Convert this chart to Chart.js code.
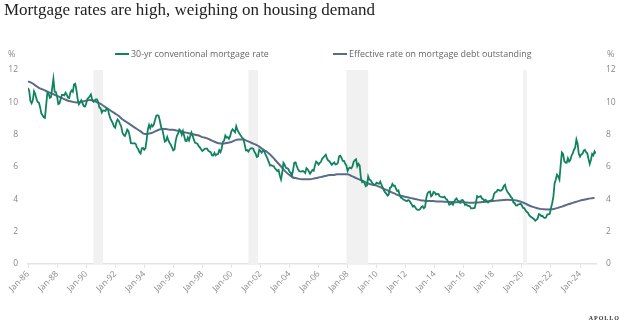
<!DOCTYPE html>
<html>
<head>
<meta charset="utf-8">
<script src="https://cdn.jsdelivr.net/npm/chart.js@4.4.1/dist/chart.umd.min.js"></script>
<style>
  html, body { margin: 0; padding: 0; background: #fff; }
  #wrap { position: relative; width: 624px; height: 332px; overflow: hidden; }
  #title { position: absolute; left: 4px; top: 0px; font: 17px "Liberation Serif", serif; color: #222; white-space: nowrap; }
  #brand { position: absolute; right: 4px; top: 315px; font: bold 6px "Liberation Serif", serif; letter-spacing: 1px; color: #333; }
  canvas { position: absolute; left: 0; top: 0; }
  .leg { position: absolute; top: 47px; font: 8.9px "Open Sans", sans-serif; color: #666; white-space: nowrap; line-height: 14px; }
  .leg i { display: inline-block; width: 14px; height: 2px; vertical-align: middle; margin-right: 2px; position: relative; top: -1px; }
</style>
</head>
<body>
<div id="wrap">
  <canvas id="chart" width="624" height="332"></canvas>
  <div id="title">Mortgage rates are high, weighing on housing demand</div>
  <div id="brand">APOLLO</div>
  <div id="legend"></div>
</div>
<script>
// 30-yr conventional mortgage rate, monthly from Jan 1986
var rateStart = 1986;
var rate30 = [
  10.88, 10.71, 10.08, 9.94, 10.14, 10.68, 10.51, 10.20, 10.01, 9.98, 9.70, 9.32, // 86
  9.20, 9.08, 9.04, 9.83, 10.60, 10.54, 10.28, 10.33, 10.89, 11.45, 10.65, 10.64, // 87
  10.38, 9.89, 9.93, 10.20, 10.46, 10.46, 10.43, 10.60, 10.48, 10.30, 10.27, 10.61, // 88
  10.73, 10.65, 11.10, 11.15, 10.77, 10.20, 9.88, 9.99, 10.13, 9.95, 9.77, 9.74, // 89
  9.90, 10.20, 10.27, 10.37, 10.48, 10.16, 10.04, 10.10, 10.18, 10.18, 10.01, 9.67, // 90
  9.64, 9.37, 9.50, 9.49, 9.47, 9.62, 9.58, 9.24, 9.01, 8.86, 8.71, 8.50, // 91
  8.43, 8.76, 8.94, 8.85, 8.67, 8.51, 8.13, 7.98, 7.92, 8.09, 8.31, 8.22, // 92
  7.91, 7.47, 7.46, 7.46, 7.47, 7.42, 7.21, 7.11, 6.92, 6.83, 7.16, 7.17, // 93
  7.06, 7.15, 7.68, 8.32, 8.60, 8.40, 8.61, 8.51, 8.64, 8.93, 9.17, 9.20, // 94
  9.15, 8.83, 8.46, 8.32, 7.96, 7.57, 7.61, 7.86, 7.64, 7.48, 7.38, 7.20, // 95
  7.03, 7.08, 7.62, 7.93, 8.07, 8.32, 8.25, 8.00, 8.23, 7.92, 7.62, 7.60, // 96
  7.82, 7.65, 7.90, 8.14, 7.94, 7.69, 7.50, 7.48, 7.43, 7.29, 7.21, 7.10, // 97
  6.99, 7.04, 7.13, 7.14, 7.14, 7.00, 6.95, 6.92, 6.72, 6.71, 6.87, 6.72, // 98
  6.79, 6.81, 7.04, 6.92, 7.15, 7.55, 7.63, 7.94, 7.82, 7.85, 7.74, 7.91, // 99
  8.21, 8.33, 8.24, 8.15, 8.52, 8.29, 8.15, 8.03, 7.91, 7.80, 7.75, 7.38, // 00
  7.03, 7.05, 6.95, 7.08, 7.15, 7.16, 7.13, 6.95, 6.82, 6.62, 6.66, 7.07, // 01
  7.00, 6.89, 7.01, 6.99, 6.81, 6.65, 6.49, 6.29, 6.09, 6.11, 6.07, 6.05, // 02
  5.92, 5.84, 5.75, 5.81, 5.48, 5.23, 5.63, 6.26, 6.15, 5.95, 5.93, 5.88, // 03
  5.71, 5.64, 5.45, 5.83, 6.27, 6.29, 6.06, 5.87, 5.75, 5.72, 5.73, 5.75, // 04
  5.71, 5.63, 5.93, 5.86, 5.72, 5.58, 5.70, 5.82, 5.77, 6.07, 6.33, 6.27, // 05
  6.15, 6.25, 6.32, 6.51, 6.60, 6.68, 6.76, 6.52, 6.40, 6.36, 6.24, 6.14, // 06
  6.22, 6.29, 6.16, 6.18, 6.26, 6.66, 6.70, 6.57, 6.38, 6.38, 6.21, 6.10, // 07
  5.76, 5.92, 5.97, 5.92, 6.04, 6.32, 6.43, 6.48, 6.04, 6.20, 6.09, 5.33, // 08
  5.06, 5.13, 5.00, 4.81, 4.86, 5.42, 5.22, 5.19, 5.06, 4.95, 4.88, 4.93, // 09
  5.03, 4.99, 4.97, 5.10, 4.89, 4.74, 4.56, 4.43, 4.35, 4.23, 4.30, 4.71, // 10
  4.76, 4.95, 4.84, 4.84, 4.64, 4.51, 4.55, 4.27, 4.11, 4.07, 3.99, 3.96, // 11
  3.92, 3.89, 3.95, 3.91, 3.80, 3.68, 3.55, 3.60, 3.50, 3.38, 3.35, 3.35, // 12
  3.41, 3.53, 3.57, 3.45, 3.54, 4.07, 4.37, 4.46, 4.49, 4.19, 4.26, 4.46, // 13
  4.43, 4.30, 4.34, 4.34, 4.19, 4.16, 4.13, 4.12, 4.16, 4.04, 4.00, 3.86, // 14
  3.67, 3.71, 3.77, 3.67, 3.84, 3.98, 4.05, 3.91, 3.89, 3.80, 3.94, 3.96, // 15
  3.87, 3.66, 3.69, 3.61, 3.60, 3.57, 3.44, 3.44, 3.46, 3.47, 3.77, 4.20, // 16
  4.15, 4.17, 4.20, 4.05, 4.01, 3.90, 3.97, 3.88, 3.81, 3.90, 3.92, 3.95, // 17
  4.03, 4.33, 4.44, 4.47, 4.59, 4.57, 4.53, 4.55, 4.63, 4.83, 4.90, 4.64, // 18
  4.46, 4.37, 4.27, 4.14, 4.07, 3.80, 3.77, 3.62, 3.61, 3.69, 3.70, 3.72, // 19
  3.62, 3.47, 3.45, 3.31, 3.23, 3.16, 3.02, 2.94, 2.89, 2.83, 2.77, 2.68, // 20
  2.74, 2.81, 3.08, 3.06, 2.96, 2.98, 2.87, 2.84, 2.90, 3.07, 3.07, 3.10, // 21
  3.45, 3.76, 4.17, 4.98, 5.23, 5.52, 5.41, 5.22, 6.11, 6.90, 6.81, 6.36, // 22
  6.27, 6.26, 6.54, 6.34, 6.43, 6.71, 6.84, 7.07, 7.20, 7.70, 7.44, 6.82, // 23
  6.64, 6.78, 6.82, 7.00, 7.06, 6.92, 6.85, 6.50, 6.18, 6.43, 6.81, 6.72, // 24
  6.96, 6.84 // 25
];

// effective rate on mortgage debt outstanding, quarterly from 1986 Q1
var effStart = 1986;
var effRate = [
  11.3, 11.2, 11.05, 10.9,   10.8, 10.7, 10.6, 10.5,   10.4, 10.3, 10.2, 10.1,
  10.05, 10.0, 10.0, 10.05,  10.1, 10.15, 10.1, 10.0,  9.9, 9.75, 9.6, 9.45,
  9.3, 9.15, 8.95, 8.8,      8.65, 8.5, 8.35, 8.2,     8.05, 8.05, 8.1, 8.2,
  8.3, 8.35, 8.35, 8.3,      8.3, 8.25, 8.2, 8.15,     8.1, 8.05, 8.0, 7.95,
  7.85, 7.8, 7.7, 7.6,       7.5, 7.45, 7.45, 7.5,     7.55, 7.65, 7.7, 7.7,
  7.65, 7.55, 7.45, 7.35,    7.2, 7.05, 6.9, 6.7,      6.45, 6.2, 5.95, 5.7,
  5.5, 5.35, 5.3, 5.25,      5.25, 5.25, 5.25, 5.3,    5.35, 5.4, 5.45, 5.5,
  5.5, 5.55, 5.55, 5.55,     5.55, 5.45, 5.35, 5.25,   5.15, 5.05, 4.95, 4.9,
  4.85, 4.75, 4.65, 4.55,    4.45, 4.35, 4.25, 4.2,    4.15, 4.1, 4.05, 4.0,
  3.95, 3.92, 3.9, 3.9,      3.88, 3.87, 3.86, 3.85,   3.84, 3.83, 3.82, 3.82,
  3.81, 3.8, 3.79, 3.8,      3.81, 3.83, 3.85, 3.87,   3.89, 3.92, 3.94, 3.96,
  3.97, 3.96, 3.94, 3.9,     3.83, 3.73, 3.62, 3.53,   3.46, 3.41, 3.38, 3.37,
  3.38, 3.42, 3.48, 3.55,    3.63, 3.71, 3.78, 3.85,   3.92, 3.97, 4.02, 4.06,
  4.09
];

// recessions (decimal years)
var recessions = [[1990.5, 1991.17], [2001.17, 2001.83], [2007.92, 2009.42], [2020.08, 2020.33]];
var tickYears = [];
for (var y = 1986; y <= 2024; y += 2) tickYears.push(y);
var yTicks = [0, 2, 4, 6, 8, 10, 12];

var rateData = rate30.map(function(v, i) { return { x: rateStart + i / 12, y: v }; });
var effData = effRate.map(function(v, i) { return { x: effStart + i / 4, y: v }; });

var shade = {
  id: 'shade',
  beforeDatasetsDraw: function(chart) {
    var c = chart.ctx, xs = chart.scales.x, a = chart.chartArea;
    c.save();
    c.fillStyle = '#f1f1f1';
    recessions.forEach(function(r) {
      var x0 = xs.getPixelForValue(r[0]), x1 = xs.getPixelForValue(r[1]);
      c.fillRect(x0, a.top, x1 - x0, a.bottom - a.top);
    });
    c.restore();
  },
  afterDraw: function(chart) {
    var c = chart.ctx;
    c.save();
    c.fillStyle = '#888';
    c.font = '9px "Open Sans"';
    c.textBaseline = 'middle';
    c.textAlign = 'left';
    c.fillText('%', 8, 54);
    c.fillText('%', 607, 54);
    c.restore();
  }
};

var tickFont = { family: 'Open Sans', size: 8.5 };
var ctx = document.getElementById('chart').getContext('2d');
var chart = new Chart(ctx, {
  type: 'line',
  data: {
    datasets: [{
      label: '30-yr conventional mortgage rate',
      data: rateData,
      borderColor: '#10825e',
      backgroundColor: '#10825e',
      borderWidth: 1.8,
      pointRadius: 0,
      tension: 0
    }, {
      label: 'Effective rate on mortgage debt outstanding',
      data: effData,
      borderColor: '#5d6b8a',
      backgroundColor: '#5d6b8a',
      borderWidth: 2,
      pointRadius: 0,
      tension: 0.4
    }]
  },
  options: {
    responsive: false,
    animation: false,
    layout: { padding: { top: 70, left: 0, right: 0, bottom: 0 } },
    plugins: {
      tooltip: { enabled: false },
      legend: { display: false }
    },
    scales: {
      x: {
        type: 'linear',
        min: 1986,
        max: 2025.1,
        afterBuildTicks: function(s) { s.ticks = tickYears.map(function(v) { return { value: v }; }); },
        afterFit: function(s) { s.height = 68; },
        grid: { drawOnChartArea: false, drawTicks: true, tickLength: 4, color: '#e3e3e3' },
        border: { color: '#e3e3e3', width: 1.5 },
        ticks: {
          autoSkip: false,
          minRotation: 45,
          maxRotation: 45,
          color: '#888',
          font: tickFont,
          padding: 1,
          callback: function(v) { return 'Jan-' + String(v).slice(2); }
        }
      },
      y: {
        position: 'left',
        min: 0,
        max: 12,
        afterBuildTicks: function(s) { s.ticks = yTicks.map(function(v) { return { value: v }; }); },
        afterFit: function(s) { s.width = 28; },
        grid: { display: false, drawTicks: false },
        border: { display: false },
        ticks: { color: '#888', font: tickFont, padding: 10 }
      },
      y2: {
        position: 'right',
        min: 0,
        max: 12,
        afterBuildTicks: function(s) { s.ticks = yTicks.map(function(v) { return { value: v }; }); },
        afterFit: function(s) { s.width = 28; },
        grid: { display: false, drawTicks: false },
        border: { display: false },
        ticks: { color: '#888', font: tickFont, padding: 10 }
      }
    }
  },
  plugins: [shade]
});

// legend as page text, built from the chart's datasets
var legendLeft = [115, 333];
var legendEl = document.getElementById('legend');
chart.data.datasets.forEach(function(ds, i) {
  var d = document.createElement('div');
  d.className = 'leg';
  d.style.left = legendLeft[i] + 'px';
  var sw = document.createElement('i');
  sw.style.background = ds.borderColor;
  d.appendChild(sw);
  d.appendChild(document.createTextNode(ds.label));
  legendEl.appendChild(d);
});
</script>
</body>
</html>
